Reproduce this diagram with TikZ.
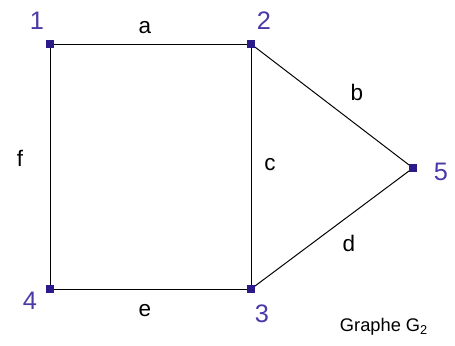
\documentclass[tikz,border=0pt]{standalone}
\usepackage{fontspec}
\setmainfont{Liberation Sans}
\definecolor{vertexblue}{HTML}{2A1A8A}
\definecolor{labelblue}{HTML}{4A3AA8}
\begin{document}
\begin{tikzpicture}[
    x=0.025cm, y=-0.025cm,
    vertex/.style={rectangle, fill=vertexblue, minimum size=0.18cm, inner sep=0pt},
    vname/.style={font=\fontsize{18}{20}\selectfont, text=labelblue},
    edge/.style={draw, black, line width=0.7pt},
    ename/.style={font=\fontsize{16}{18}\selectfont}
]
  \useasboundingbox (0,0) rectangle (455,345);
  % --- the graph G2 ----------------------------------------------------
  \node[vertex] (v1) at (50,44) {};
  \node[vertex] (v2) at (251,44) {};
  \node[vertex] (v3) at (251,289) {};
  \node[vertex] (v4) at (50,289) {};
  \node[vertex] (v5) at (413,168) {};
  \draw[edge] (v1) -- (v2);
  \draw[edge] (v2) -- (v5);
  \draw[edge] (v2) -- (v3);
  \draw[edge] (v3) -- (v5);
  \draw[edge] (v4) -- (v3);
  \draw[edge] (v1) -- (v4);
  % vertex numbers
  \node[vname] (n1) at (37,21) {1};
  \node[vname] (n2) at (264,21) {2};
  \node[vname] (n3) at (262,314) {3};
  \node[vname] (n4) at (30,301) {4};
  \node[vname] (n5) at (441,172) {5};
  % edge names
  \node[ename] (ea) at (145,28) {a};
  \node[ename] (eb) at (357,92) {b};
  \node[ename] (ec) at (270,165) {c};
  \node[ename] (ed) at (349,243) {d};
  \node[ename] (ee) at (145,311) {e};
  \node[ename] (ef) at (20,158) {f};
  \node[font=\fontsize{13}{15}\selectfont] (title) at (384,327) {Graphe G\textsubscript{2}};
\end{tikzpicture}
\end{document}
